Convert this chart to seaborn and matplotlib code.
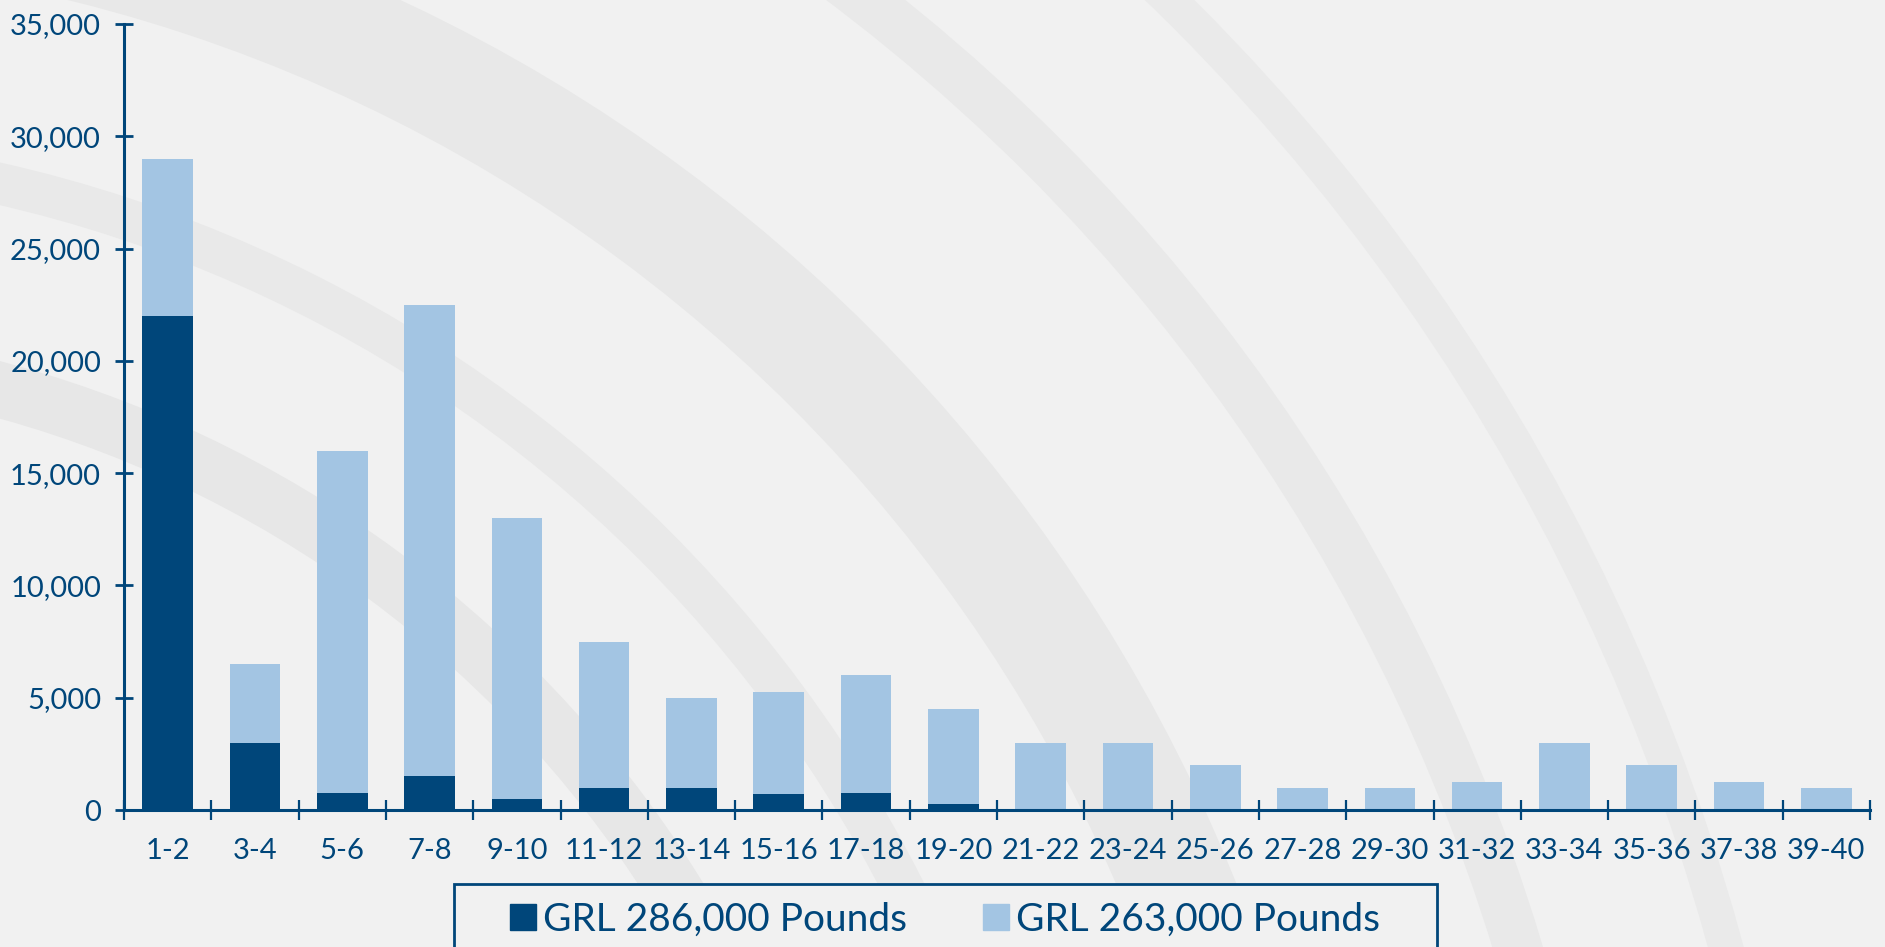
import numpy as np
import pandas as pd
import matplotlib
matplotlib.use('Agg')
import matplotlib.pyplot as plt
import seaborn as sns
from matplotlib.lines import Line2D
from matplotlib.patches import Arc, Rectangle

# Data
ranges = ['1-2', '3-4', '5-6', '7-8', '9-10', '11-12', '13-14', '15-16', '17-18', '19-20',
          '21-22', '23-24', '25-26', '27-28', '29-30', '31-32', '33-34', '35-36', '37-38', '39-40']
grl_286 = [22000, 3000, 750, 1500, 500, 1000, 1000, 700, 750, 250,
           0, 0, 0, 0, 0, 0, 0, 0, 0, 0]
grl_263 = [7000, 3500, 15250, 21000, 12500, 6500, 4000, 4550, 5250, 4250,
           3000, 3000, 2000, 1000, 1000, 1250, 3000, 2000, 1250, 1000]
series_labels = ['GRL 286,000 Pounds', 'GRL 263,000 Pounds']

dark = '#00467A'
light = '#A3C5E3'
bg = '#F1F1F1'

df = pd.DataFrame({'range': ranges, 'dark': grl_286, 'light': grl_263})
df['total'] = df['dark'] + df['light']

sns.set_style('white')
plt.rcParams['font.family'] = ['Lato', 'DejaVu Sans']

fig = plt.figure(figsize=(18.85, 9.47), dpi=100, facecolor=bg)

# decorative background arcs, kept faint
bgax = fig.add_axes([0, 0, 1, 1], zorder=-5)
bgax.set_xlim(0, 1885)
bgax.set_ylim(947, 0)
bgax.axis('off')
for r, lw, c in [(1150, 40, '#E7E7E7'), (1350, 30, '#E9E9E9'), (1600, 80, '#E8E8E8'),
                 (1900, 35, '#E9E9E9'), (2100, 25, '#EAEAEA')]:
    bgax.add_patch(Arc((-300, 1500), 2 * r, 2 * r, theta1=270, theta2=360,
                       lw=lw, color=c, zorder=-5))

ax = fig.add_axes([124 / 1885, 1 - 810 / 947, (1870 - 124) / 1885, (810 - 24) / 947])
ax.set_facecolor('none')

sns.barplot(data=df, x='range', y='total', color=light, width=0.58,
            saturation=1, linewidth=0, ax=ax, zorder=2)
sns.barplot(data=df, x='range', y='dark', color=dark, width=0.58,
            saturation=1, linewidth=0, ax=ax, zorder=3)

ax.set_ylim(0, 35000)
ax.set_xlim(-0.5, len(ranges) - 0.5)
ax.set_yticks(np.arange(0, 35001, 5000))
ax.set_yticklabels([f'{v:,}' for v in range(0, 35001, 5000)])
ax.set_xlabel('')
ax.set_ylabel('')

for s in ['top', 'right']:
    ax.spines[s].set_visible(False)
for s in ['left', 'bottom']:
    ax.spines[s].set_color(dark)
    ax.spines[s].set_linewidth(2.2)

ax.tick_params(axis='y', direction='inout', length=13, width=2, color=dark,
               labelcolor=dark, labelsize=21, pad=10, left=True)
ax.set_xticks(np.arange(-0.5, len(ranges)), minor=True)
ax.tick_params(axis='x', which='minor', direction='inout', length=15, width=1.6,
               color=dark, bottom=True)
ax.tick_params(axis='x', which='major', length=0, labelcolor=dark, labelsize=21, pad=20)

# legend box running off the bottom edge
fig.add_artist(Rectangle((454 / 1885, -0.05), (1437 - 454) / 1885, 0.05 + (947 - 884) / 947,
                         transform=fig.transFigure, facecolor=bg, edgecolor=dark,
                         linewidth=2, zorder=4))
handles = [Line2D([], [], marker='s', ls='', markersize=19, color=dark),
           Line2D([], [], marker='s', ls='', markersize=19, color=light)]
leg = fig.legend(handles, series_labels, loc='upper center', ncol=2,
                 bbox_to_anchor=((454 + 1437) / 2 / 1885, 1 - 882 / 947),
                 fontsize=28, frameon=False, handlelength=0.6,
                 handletextpad=0.2, columnspacing=2.0, borderpad=0.5,
                 borderaxespad=0)
leg.set_zorder(5)
for t in leg.get_texts():
    t.set_color(dark)

fig.savefig('out.png', dpi=100, facecolor=bg)
